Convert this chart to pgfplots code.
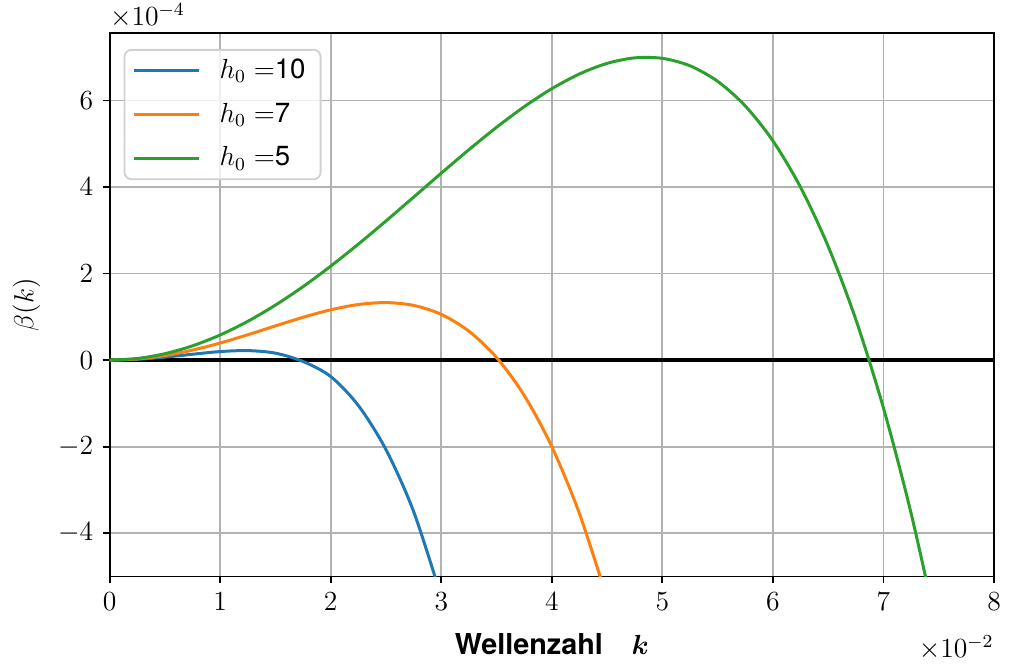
\documentclass[12pt,border=0pt]{standalone}
\usepackage{fontspec}
\setsansfont{TeX Gyre Heros}
\usepackage{amsmath}
\usepackage{bm}
\usepackage{pgfplots}
\pgfplotsset{compat=1.18}
\definecolor{tabblue}{HTML}{1F77B4}
\definecolor{taborange}{HTML}{FF7F0E}
\definecolor{tabgreen}{HTML}{2CA02C}
\begin{document}
\begin{tikzpicture}
\begin{axis}[
  scale only axis,
  width=384pt, height=236pt,
  xmin=0, xmax=8, ymin=-5, ymax=7.56,
  xtick={0,1,...,8},
  ytick={-4,-2,0,2,4,6},
  tick align=outside,
  tick pos=left,
  major tick length=3pt,
  every tick/.style={black, line width=0.8pt},
  axis line style={black, line width=0.8pt},
  grid=major,
  major grid style={color=black!30, line width=0.8pt},
  ylabel={$\beta(k)$},
  ylabel style={at={(axis description cs:-0.094,0.5)}, anchor=center},
  xlabel={\fontsize{12.5}{15}\selectfont\textsf{\bfseries Wellenzahl}\quad$\bm{k}$},
  xlabel style={at={(axis description cs:0.5,-0.104)}, anchor=north, inner sep=0pt},
  legend style={at={(0.0158,0.9706)}, anchor=north west, draw=black!18, line width=0.8pt,
    rounded corners=3pt, fill=white, fill opacity=0.8, text opacity=1,
    row sep=4.8pt, column sep=0pt, inner xsep=0pt, inner ysep=2pt,
    nodes={inner xsep=0pt}},
  legend cell align=left,
  legend image code/.code={\path[draw=none, fill=none] (0pt,0pt) (41.3pt,0pt); \draw[#1, line width=1.3pt] (4.3pt,0pt) -- (32.3pt,0pt);},
  clip mode=individual,
]
\addplot[black, line width=1.5pt, forget plot] coordinates {(0,0) (8,0)};
\addplot[tabblue, line width=1.3pt, smooth] coordinates {
(0,0) (0.25,0.0182) (0.5,0.0681) (0.75,0.1355) (1,0.1969) (1.25,0.2193)
(1.5,0.1602) (1.75,-0.0322) (2,-0.38) (2.25,-1.05) (2.5,-2.07)
(2.75,-3.50) (3,-5.47)};
\addlegendentry{$h_0=$\textsf{10}\hspace*{6.5pt}}
\addplot[taborange, line width=1.3pt, smooth] coordinates {
(0,0) (0.25,0.0267) (0.5,0.1051) (0.75,0.2304) (1,0.3944) (1.25,0.5858)
(1.5,0.7900) (1.75,0.9891) (2,1.1620) (2.25,1.2844) (2.5,1.3287)
(2.75,1.2641) (3,1.0564) (3.25,0.6684) (3.5,0.0594) (3.75,-0.8144)
(4,-2.0) (4.25,-3.5476) (4.5,-5.5111)};
\addlegendentry{$h_0=$\textsf{7}}
\addplot[tabgreen, line width=1.3pt, smooth] coordinates {
(0,0) (0.25,0.0370) (0.5,0.1475) (0.75,0.3296) (1,0.5804) (1.25,0.8959)
(1.5,1.2706) (1.75,1.6982) (2,2.1710) (2.25,2.6801) (2.5,3.2155)
(2.75,3.7660) (3,4.3193) (3.25,4.8619) (3.5,5.3790) (3.75,5.8546)
(4,6.2718) (4.25,6.6122) (4.5,6.8563) (4.75,6.9839) (5,6.9728)
(5.25,6.8002) (5.5,6.4419) (5.75,5.8725) (6,5.0657) (6.25,3.9935)
(6.5,2.6274) (6.75,0.9373) (7,-1.1082) (7.25,-3.5412) (7.5,-6.3957)};
\addlegendentry{$h_0=$\textsf{5}}
\node[anchor=south west, inner sep=0pt] at ([yshift=2pt]rel axis cs:0,1) {$\times10^{-4}$};
\node[anchor=north east, inner sep=0pt] at (rel axis cs:1,-0.108) {$\times10^{-2}$};
\path[draw=none] ([xshift=-47.6pt,yshift=-39pt]rel axis cs:0,0) -- ([xshift=5.6pt,yshift=14.3pt]rel axis cs:1,1);
\end{axis}
\end{tikzpicture}
\end{document}
